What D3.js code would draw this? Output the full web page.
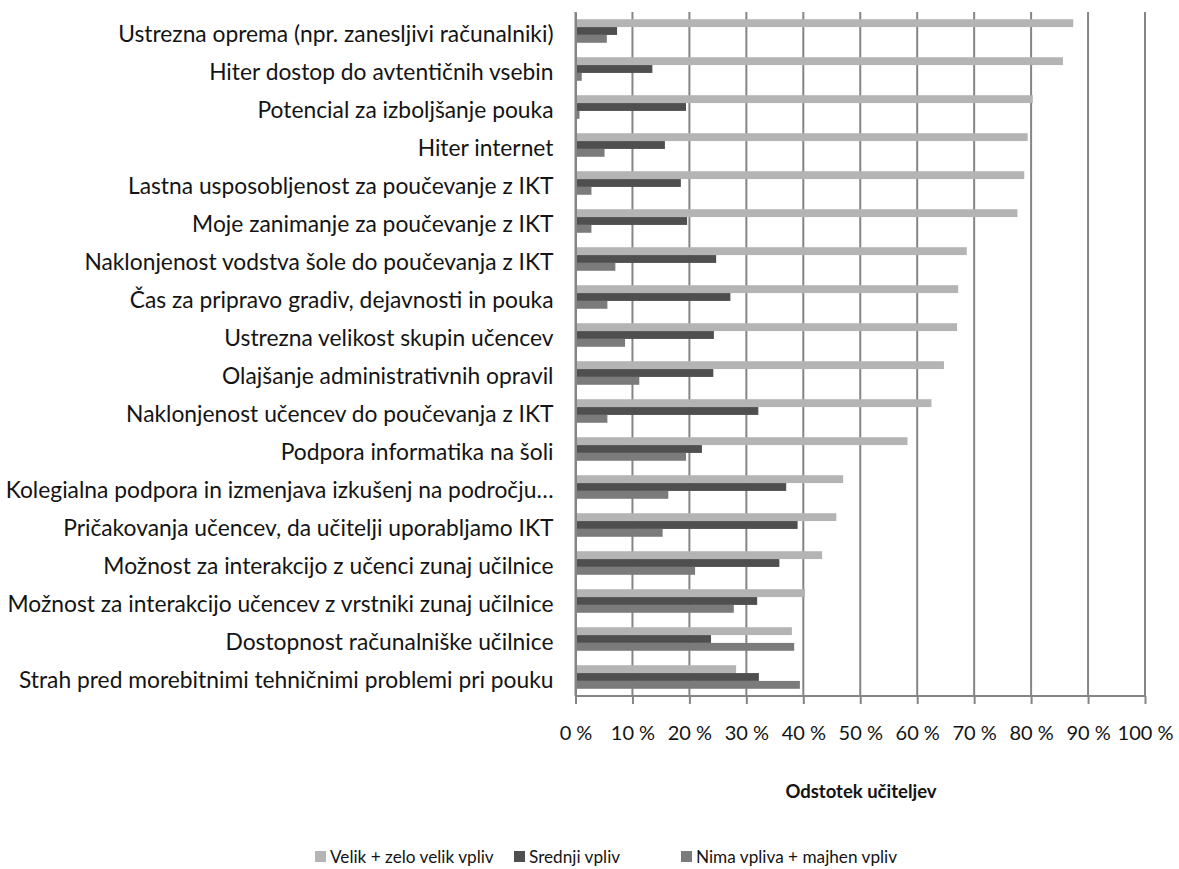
<!DOCTYPE html>
<html>
<head>
<meta charset="utf-8">
<script src="https://cdn.jsdelivr.net/npm/d3@7"></script>
<style>
  html, body { margin: 0; padding: 0; background: #fff; }
  svg { display: block; }
  text { font-family: Lato, "Open Sans", sans-serif; fill: #141414; }
</style>
</head>
<body>
<svg id="chart" width="1179" height="869"></svg>
<script>
// Dejavniki, ki vplivajo na uporabo IKT pri pouku
const categories = [
  "Ustrezna oprema (npr. zanesljivi računalniki)",
  "Hiter dostop do avtentičnih vsebin",
  "Potencial za izboljšanje pouka",
  "Hiter internet",
  "Lastna usposobljenost za poučevanje z IKT",
  "Moje zanimanje za poučevanje z IKT",
  "Naklonjenost vodstva šole do poučevanja z IKT",
  "Čas za pripravo gradiv, dejavnosti in pouka",
  "Ustrezna velikost skupin učencev",
  "Olajšanje administrativnih opravil",
  "Naklonjenost učencev do poučevanja z IKT",
  "Podpora informatika na šoli",
  "Kolegialna podpora in izmenjava izkušenj na področju…",
  "Pričakovanja učencev, da učitelji uporabljamo IKT",
  "Možnost za interakcijo z učenci zunaj učilnice",
  "Možnost za interakcijo učencev z vrstniki zunaj učilnice",
  "Dostopnost računalniške učilnice",
  "Strah pred morebitnimi tehničnimi problemi pri pouku"
];

const seriesNames = ["Velik + zelo velik vpliv", "Srednji vpliv", "Nima vpliva + majhen vpliv"];

const velikVpliv = [87.4, 85.6, 80.3, 79.4, 78.8, 77.6, 68.7, 67.2, 67.0, 64.7, 62.5, 58.3, 47.0, 45.8, 43.3, 40.3, 38.0, 28.2];
const srednjiVpliv = [7.3, 13.5, 19.4, 15.7, 18.5, 19.6, 24.7, 27.2, 24.3, 24.2, 32.1, 22.2, 37.0, 39.0, 35.8, 31.9, 23.8, 32.2];
const majhenVpliv = [5.5, 1.1, 0.7, 5.1, 2.8, 2.8, 7.0, 5.6, 8.7, 11.2, 5.6, 19.4, 16.3, 15.3, 21.0, 27.8, 38.4, 39.4];

const xTicks = [0, 10, 20, 30, 40, 50, 60, 70, 80, 90, 100];
const xTitle = "Odstotek učiteljev";

const seriesValues = [velikVpliv, srednjiVpliv, majhenVpliv];
const colors = ["#b4b4b4", "#4f4f4f", "#7b7b7b"];

const svg = d3.select("#chart");
const plot = { left: 575.5, right: 1145, top: 12, bottom: 696 };

const x = d3.scaleLinear().domain([0, 100]).range([plot.left, plot.right]);
const y = d3.scaleBand().domain(categories).range([plot.top, plot.bottom]).paddingInner(0.38).paddingOuter(0.19);
const ySub = d3.scaleBand().domain(d3.range(seriesNames.length)).range([0, y.bandwidth()]);

// mrežne črte
svg.append("g")
  .selectAll("line")
  .data(xTicks)
  .join("line")
  .attr("x1", d => x(d)).attr("x2", d => x(d))
  .attr("y1", plot.top).attr("y2", plot.bottom)
  .attr("stroke", "#858585").attr("stroke-width", 2);

// stolpci
const rows = categories.map((c, i) => ({ c, vals: seriesValues.map(s => s[i]) }));
svg.append("g")
  .selectAll("g")
  .data(rows)
  .join("g")
  .attr("transform", d => `translate(0,${y(d.c)})`)
  .selectAll("rect")
  .data(d => d.vals.map((v, k) => ({ v, k })))
  .join("rect")
  .attr("x", x(0))
  .attr("y", d => ySub(d.k))
  .attr("width", d => x(d.v) - x(0))
  .attr("height", ySub.bandwidth())
  .attr("fill", d => colors[d.k]);

// os x
const xAxis = d3.axisBottom(x).tickValues(xTicks).tickSize(8).tickPadding(22)
  .tickFormat(d => d + " %");
const gx = svg.append("g").attr("transform", `translate(0,${plot.bottom})`).call(xAxis);
gx.select(".domain").attr("stroke", "#858585").attr("stroke-width", 2).attr("d", `M${x(0)},0H${x(100)}`);
gx.selectAll(".tick text").attr("font-size", 20).attr("font-family", "Lato, sans-serif").attr("fill", "#141414");
gx.selectAll(".tick line").attr("stroke", "#858585").attr("stroke-width", 2);

// os y
const yAxis = d3.axisLeft(y).tickSize(0).tickPadding(22);
const gy = svg.append("g").attr("transform", `translate(${plot.left},0)`).call(yAxis);
gy.select(".domain").attr("stroke", "#858585").attr("stroke-width", 2);
gy.selectAll(".tick text").attr("font-size", 22.8).attr("dy", "0.5em")
  .attr("font-family", "Lato, sans-serif").attr("fill", "#141414");

// naslov osi
svg.append("text")
  .attr("x", 861).attr("y", 798)
  .attr("text-anchor", "middle")
  .attr("font-size", 18.5).attr("font-weight", "bold")
  .text(xTitle);

// legenda
const legendX = [315, 514, 681];
const lg = svg.append("g").selectAll("g").data(seriesNames).join("g")
  .attr("transform", (d, i) => `translate(${legendX[i]},857)`);
lg.append("rect").attr("x", 0).attr("y", -6).attr("width", 11).attr("height", 11).attr("fill", (d, i) => colors[i]);
lg.append("text").attr("x", 15).attr("y", 6).attr("font-size", 17.2).text(d => d);
</script>
</body>
</html>
